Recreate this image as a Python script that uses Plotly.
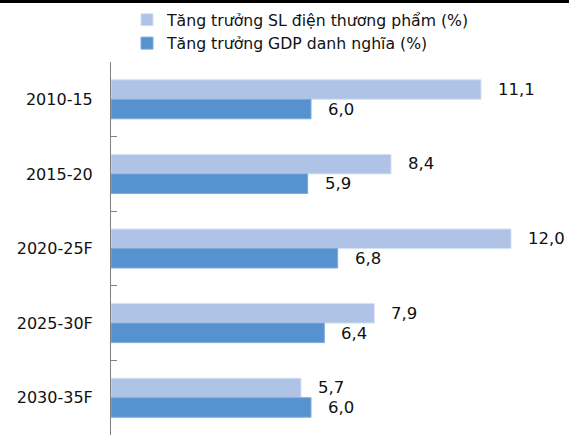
import plotly.graph_objects as go

# Growth rates by period (%)
periods = ["2010-15", "2015-20", "2020-25F", "2025-30F", "2030-35F"]
power_growth = [11.1, 8.4, 12.0, 7.9, 5.7]
gdp_growth = [6.0, 5.9, 6.8, 6.4, 6.0]

name_power = "Tăng trưởng SL điện thương phẩm (%)"
name_gdp = "Tăng trưởng GDP danh nghĩa (%)"

light = "#AEC3E6"
dark = "#5592CF"
font_family = "DejaVu Sans"

W, H = 569, 437
ml, mr, mt, mb = 111, 8, 62, 2
pw = W - ml - mr
ph = H - mt - mb

fig = go.Figure()
fig.add_trace(go.Bar(y=periods, x=power_growth, orientation="h", name=name_power,
                     marker=dict(color=light, line=dict(color="#D6E1F3", width=1))))
fig.add_trace(go.Bar(y=periods, x=gdp_growth, orientation="h", name=name_gdp,
                     marker=dict(color=dark, line=dict(color="#7FAADB", width=1))))

def fmt(v):
    return f"{v:.1f}".replace(".", ",")

annotations = []
for p, a, b in zip(periods, power_growth, gdp_growth):
    annotations.append(dict(x=a, y=p, text=fmt(a), xanchor="left", yanchor="middle",
                            xshift=15, yshift=10, showarrow=False,
                            font=dict(size=16.5, color="#111111", family=font_family)))
    annotations.append(dict(x=b, y=p, text=fmt(b), xanchor="left", yanchor="middle",
                            xshift=15, yshift=-10, showarrow=False,
                            font=dict(size=16.5, color="#111111", family=font_family)))

fig.update_layout(
    width=W, height=H,
    margin=dict(l=ml, r=mr, t=mt, b=mb),
    paper_bgcolor="white", plot_bgcolor="white",
    barmode="group", bargap=0.477, bargroupgap=0,
    font=dict(family=font_family, size=16, color="#111111"),
    showlegend=True,
    legend=dict(x=(127 - ml) / pw, y=1 + 59 / ph, xanchor="left", yanchor="top",
                traceorder="normal", font=dict(size=15.7, family=font_family),
                itemwidth=30, tracegroupgap=0, bgcolor="rgba(0,0,0,0)"),
    xaxis=dict(range=[0, 13.5], visible=False),
    yaxis=dict(autorange="reversed", showline=True, linecolor="#808080", linewidth=1,
               ticks="inside", ticklen=6, tickcolor="#808080", tickson="boundaries",
               tickfont=dict(size=16, family=font_family, color="#111111"),
               ticklabelstandoff=14, showgrid=False, zeroline=False),
    annotations=annotations,
    shapes=[dict(type="line", xref="paper", yref="paper",
                 x0=-ml / pw, x1=1 + mr / pw,
                 y0=1 + (mt - 1.5) / ph, y1=1 + (mt - 1.5) / ph,
                 line=dict(color="black", width=3))],
)

fig.write_html("out.html")
